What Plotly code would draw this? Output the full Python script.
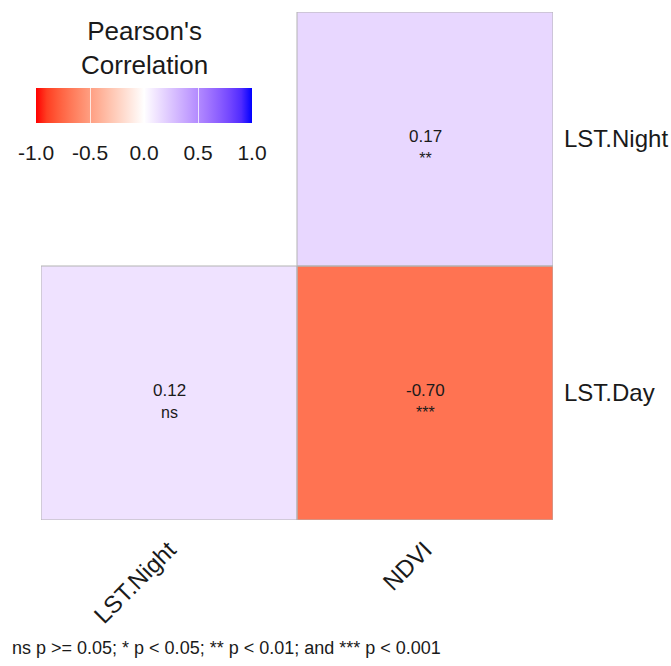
import plotly.graph_objects as go

# Correlation data (lower triangle, rows bottom->top)
x_vars = ["LST.Night", "NDVI"]
y_vars = ["LST.Day", "LST.Night"]
corr = [[0.12, -0.70],
        [None, 0.17]]
signif = [["ns", "***"],
          [None, "**"]]
cbar_ticks = [-1.0, -0.5, 0.0, 0.5, 1.0]
legend_title = "Pearson's<br>Correlation"
caption = "ns p >= 0.05; * p < 0.05; ** p < 0.01; and *** p < 0.001"


# Diverging scale red -> white -> blue, interpolated in CIELAB like ggplot2
def srgb_to_lab(rgb):
    def lin(c):
        c = c / 255
        return c / 12.92 if c <= 0.04045 else ((c + 0.055) / 1.055) ** 2.4
    r, g, b = (lin(c) for c in rgb)
    X = (0.4124 * r + 0.3576 * g + 0.1805 * b) / 0.95047
    Y = 0.2126 * r + 0.7152 * g + 0.0722 * b
    Z = (0.0193 * r + 0.1192 * g + 0.9505 * b) / 1.08883
    f = lambda t: t ** (1 / 3) if t > 0.008856 else 7.787 * t + 16 / 116
    fx, fy, fz = f(X), f(Y), f(Z)
    return 116 * fy - 16, 500 * (fx - fy), 200 * (fy - fz)


def lab_to_srgb(lab):
    L, a, b = lab
    fy = (L + 16) / 116
    fx = fy + a / 500
    fz = fy - b / 200
    finv = lambda t: t ** 3 if t ** 3 > 0.008856 else (t - 16 / 116) / 7.787
    X, Y, Z = 0.95047 * finv(fx), finv(fy), 1.08883 * finv(fz)
    r = 3.2406 * X - 1.5372 * Y - 0.4986 * Z
    g = -0.9689 * X + 1.8758 * Y + 0.0415 * Z
    bb = 0.0557 * X - 0.2040 * Y + 1.0570 * Z

    def gam(c):
        c = min(max(c, 0), 1)
        c = 12.92 * c if c <= 0.0031308 else 1.055 * c ** (1 / 2.4) - 0.055
        return int(round(c * 255))
    return "rgb(%d,%d,%d)" % (gam(r), gam(g), gam(bb))


low, mid, high = (255, 0, 0), (255, 255, 255), (0, 0, 255)
lab_low, lab_mid, lab_high = srgb_to_lab(low), srgb_to_lab(mid), srgb_to_lab(high)
scale = []
n = 20
for i in range(n + 1):
    t = i / n
    if t <= 0.5:
        s = t / 0.5
        lab = tuple(lab_low[k] + (lab_mid[k] - lab_low[k]) * s for k in range(3))
    else:
        s = (t - 0.5) / 0.5
        lab = tuple(lab_mid[k] + (lab_high[k] - lab_mid[k]) * s for k in range(3))
    scale.append([t, lab_to_srgb(lab)])

xi = list(range(len(x_vars)))
yi = list(range(len(y_vars)))

TEXT = "#1a1a1a"
CB_X = 0.2012


def colorbar(show_labels, ticks, ticklen, tickcolor):
    return dict(
        orientation="h",
        x=CB_X, xanchor="center",
        y=0.8504, yanchor="top",
        len=216, lenmode="pixels",
        thickness=35,
        xpad=0, ypad=0,
        outlinewidth=0,
        tickvals=cbar_ticks,
        ticktext=["%.1f" % v for v in cbar_ticks],
        showticklabels=show_labels,
        ticks=ticks, ticklen=ticklen, tickcolor=tickcolor, tickwidth=1,
        tickfont=dict(size=21, color=TEXT),
    )


fig = go.Figure()
# main tiles with the labelled legend bar
fig.add_trace(go.Heatmap(
    x=xi, y=yi, z=corr,
    zmin=-1, zmax=1, colorscale=scale,
    hoverongaps=False,
    colorbar=colorbar(True, "outside", 12, "rgba(255,255,255,0)"),
))
# same tiles again; its legend bar only adds the white tick marks across the bar
fig.add_trace(go.Heatmap(
    x=xi, y=yi, z=corr,
    zmin=-1, zmax=1, colorscale=scale,
    hoverinfo="skip", hoverongaps=False,
    colorbar=colorbar(False, "inside", 35, "rgba(255,255,255,0.75)"),
))

# legend title above the bar
fig.add_annotation(
    x=CB_X, y=0.930, xref="paper", yref="paper", xanchor="center", yanchor="middle",
    showarrow=False, text=legend_title, font=dict(size=26, color=TEXT),
)

# Cell borders and labels
for r, row in enumerate(corr):
    for c, v in enumerate(row):
        if v is None:
            continue
        fig.add_shape(type="rect", x0=c - 0.5, x1=c + 0.5, y0=r - 0.5, y1=r + 0.5,
                      xref="x", yref="y", line=dict(color="#b3b3b3", width=1))
        fig.add_annotation(
            x=c, y=r, xref="x", yref="y", showarrow=False, yshift=-8,
            text="%.2f<br><span style='font-size:16px'>%s</span>" % (v, signif[r][c]),
            font=dict(size=17, color=TEXT),
        )

fig.add_annotation(
    x=-0.0605, y=-0.252, xref="paper", yref="paper", xanchor="left", yanchor="middle",
    showarrow=False, text=caption, font=dict(size=18, color=TEXT),
)

fig.update_xaxes(range=[-0.5, 1.5], tickvals=xi, ticktext=x_vars, tickangle=-45,
                 ticklabelstandoff=10, automargin=False,
                 showgrid=False, zeroline=False, showline=False,
                 tickfont=dict(size=24, color=TEXT))
fig.update_yaxes(range=[-0.5, 1.5], tickvals=yi, ticktext=y_vars, side="right",
                 ticklabelstandoff=10, automargin=False,
                 showgrid=False, zeroline=False, showline=False,
                 tickfont=dict(size=24, color=TEXT))

fig.update_layout(
    width=671, height=666,
    margin=dict(l=41, r=118, t=12, b=146),
    paper_bgcolor="white", plot_bgcolor="white",
    font=dict(family="Liberation Sans, Arial, sans-serif"),
)

fig.write_html("out.html")
